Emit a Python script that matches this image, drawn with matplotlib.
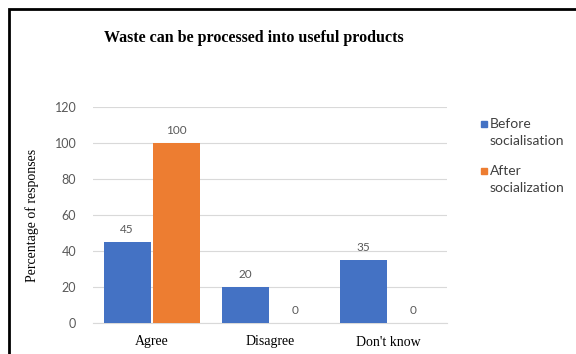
import matplotlib
matplotlib.use("Agg")
import matplotlib.pyplot as plt
import numpy as np
from matplotlib.patches import Rectangle

categories = ["Agree", "Disagree", "Don't know"]
before = [45, 20, 35]
after = [100, 0, 0]
series_names = ["Before\nsocialisation", "After\nsocialization"]
yticks = [0, 20, 40, 60, 80, 100, 120]
colors = ["#4472C4", "#ED7D31"]

W, H = 576, 354
fig = plt.figure(figsize=(W/100, H/100), dpi=100)
ax = fig.add_axes([93/W, 1-323/H, (447-93)/W, (323-107)/H])

x = np.arange(len(categories))
bw = 0.4
gap = 0.01
b1 = ax.bar(x - bw/2 - gap, before, bw, color=colors[0], label=series_names[0], zorder=3)
b2 = ax.bar(x + bw/2 + gap, after, bw, color=colors[1], label=series_names[1], zorder=3)

for bars, vals in ((b1, before), (b2, after)):
    for r, v in zip(bars, vals):
        ax.text(r.get_x() + r.get_width()/2, v + 4, str(v), ha="center", va="bottom",
                fontsize=8.5, color="#595959", family="Lato")

ax.set_xlim(-0.5, 2.5)
ax.set_ylim(0, 120)
ax.set_yticks(yticks)
ax.set_yticklabels([str(t) for t in yticks], family="Lato", fontsize=9, color="#595959")
ax.set_xticks(x)
ax.set_xticklabels(categories, family="Liberation Serif", fontsize=10, color="#000000")
ax.tick_params(axis="both", length=0)
ax.tick_params(axis="y", pad=12)
ax.tick_params(axis="x", pad=9)
ax.grid(axis="y", color="#D9D9D9", linewidth=0.8, zorder=0)
for s in ["top", "right", "left"]:
    ax.spines[s].set_visible(False)
ax.spines["bottom"].set_color("#D9D9D9")
ax.set_ylabel("Percentage of responses", family="Liberation Serif", fontsize=10, labelpad=11)

fig.text(254/W, 1-38/H, "Waste can be processed into useful products", ha="center", va="center",
         family="Liberation Serif", fontweight="bold", fontsize=11.5)

# legend drawn as markers + text
for i, (name, c) in enumerate(zip(series_names, colors)):
    yc = 124 + i * 47
    fig.patches.append(Rectangle((481/W, 1-(yc+3)/H), 6/W, 6/H, transform=fig.transFigure,
                                 color=c))
    for j, line in enumerate(name.split("\n")):
        fig.text(490/W, 1-(yc + 17*j)/H, line, ha="left", va="center",
                 family="Lato", fontsize=10, color="#404040")

fig.patches.append(Rectangle((9/W, -0.1), 1.2, 1.1 - 9/H, transform=fig.transFigure,
                             fill=False, edgecolor="black", linewidth=2, zorder=10))

fig.savefig("out.png", dpi=100)
